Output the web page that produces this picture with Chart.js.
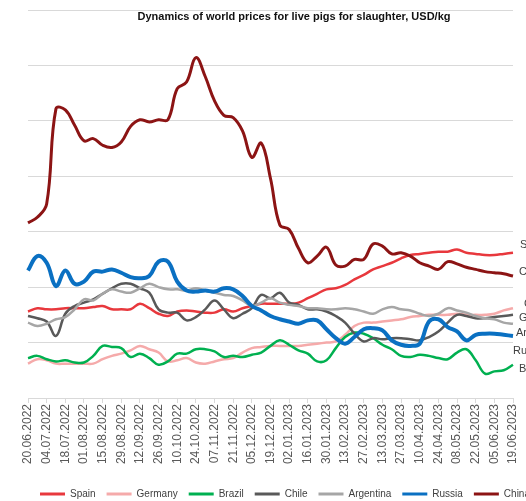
<!DOCTYPE html>
<html>
<head>
<meta charset="utf-8">
<script src="https://cdn.jsdelivr.net/npm/chart.js@4"></script>
<style>
html, body { margin: 0; padding: 0; background: #fff; overflow: hidden; }
#wrap { width: 570px; height: 501px; }
</style>
</head>
<body>
<div id="wrap"><canvas id="pigChart"></canvas></div>
<script>
// weekly dates, every second one shown on the axis
const weeks = [
    "20.06.2022", "27.06.2022", "04.07.2022", "11.07.2022", "18.07.2022", "25.07.2022",
    "01.08.2022", "08.08.2022", "15.08.2022", "22.08.2022", "29.08.2022",
    "05.09.2022", "12.09.2022", "19.09.2022", "26.09.2022",
    "03.10.2022", "10.10.2022", "17.10.2022", "24.10.2022", "31.10.2022",
    "07.11.2022", "14.11.2022", "21.11.2022", "28.11.2022",
    "05.12.2022", "12.12.2022", "19.12.2022", "26.12.2022",
    "02.01.2023", "09.01.2023", "16.01.2023", "23.01.2023", "30.01.2023",
    "06.02.2023", "13.02.2023", "20.02.2023", "27.02.2023",
    "06.03.2023", "13.03.2023", "20.03.2023", "27.03.2023",
    "03.04.2023", "10.04.2023", "17.04.2023", "24.04.2023",
    "01.05.2023", "08.05.2023", "15.05.2023", "22.05.2023", "29.05.2023",
    "05.06.2023", "12.06.2023", "19.06.2023"
];

const countries = ["Spain", "Germany", "Brazil", "Chile", "Argentina", "Russia", "China"];

const spain = [1.78,1.81,1.80,1.80,1.81,1.81,1.81,1.82,1.83,1.80, 1.80,1.80,1.85,1.81,1.76,1.74,1.78,1.79,1.78,1.77,
    1.77,1.80,1.78,1.81,1.83,1.85,1.85,1.85,1.85,1.86, 1.90,1.94,1.98,1.99,2.02,2.07,2.11,2.16,2.19,2.22,
    2.26,2.29,2.30,2.31,2.32,2.32,2.34,2.31,2.30,2.29, 2.29,2.30,2.31];
const germany = [1.31,1.35,1.34,1.31,1.31,1.31,1.31,1.31,1.35,1.38, 1.40,1.43,1.47,1.44,1.41,1.33,1.34,1.36,1.32,1.31,
    1.33,1.35,1.36,1.41,1.45,1.46,1.47,1.47,1.47,1.47, 1.48,1.49,1.50,1.51,1.57,1.65,1.68,1.68,1.69,1.70,
    1.71,1.73,1.74,1.75,1.75,1.75,1.76,1.75,1.75,1.75, 1.76,1.79,1.81];
const brazil = [1.36,1.38,1.35,1.33,1.34,1.32,1.32,1.38,1.47,1.46, 1.45,1.37,1.40,1.36,1.30,1.33,1.40,1.40,1.44,1.44,
    1.42,1.37,1.38,1.37,1.39,1.41,1.47,1.52,1.48,1.43, 1.40,1.33,1.34,1.45,1.55,1.59,1.58,1.54,1.48,1.44,
    1.38,1.37,1.39,1.38,1.36,1.35,1.41,1.44,1.34,1.22, 1.24,1.25,1.30];
const chile = [1.74,1.72,1.69,1.56,1.76,1.83,1.86,1.89,1.94,1.99, 2.03,2.03,1.99,1.95,1.80,1.77,1.77,1.70,1.73,1.80,
    1.88,1.80,1.72,1.76,1.81,1.93,1.90,1.95,1.86,1.84, 1.80,1.80,1.78,1.74,1.68,1.58,1.51,1.54,1.53,1.54,
    1.54,1.53,1.52,1.55,1.60,1.68,1.75,1.74,1.72,1.72, 1.73,1.74,1.75];
const argentina = [1.68,1.65,1.67,1.71,1.73,1.80,1.89,1.88,1.94,1.98, 1.96,1.95,1.99,2.03,2.00,1.98,1.98,1.97,1.99,1.97,
    1.95,1.93,1.92,1.88,1.83,1.86,1.90,1.86,1.84,1.83, 1.81,1.81,1.80,1.80,1.81,1.80,1.78,1.76,1.80,1.82,
    1.80,1.79,1.76,1.74,1.76,1.81,1.79,1.77,1.74,1.72, 1.71,1.68,1.67];
const russia = [2.15,2.28,2.22,2.01,2.15,2.03,2.05,2.14,2.14,2.16, 2.13,2.09,2.08,2.10,2.23,2.23,2.05,1.97,1.96,1.97,
    1.96,1.99,1.98,1.92,1.83,1.79,1.74,1.71,1.69,1.67, 1.70,1.70,1.62,1.54,1.49,1.55,1.62,1.63,1.61,1.52,
    1.48,1.47,1.49,1.69,1.71,1.64,1.60,1.52,1.57,1.58, 1.58,1.57,1.56];
const china = [2.58,2.63,2.75,3.61,3.60,3.46,3.32,3.34,3.28,3.26, 3.31,3.45,3.51,3.49,3.51,3.51,3.79,3.85,4.07,3.90,
    3.68,3.55,3.53,3.41,3.17,3.30,2.98,2.56,2.52,2.35, 2.22,2.28,2.36,2.20,2.19,2.25,2.25,2.39,2.37,2.30,
    2.31,2.28,2.22,2.19,2.16,2.23,2.21,2.18,2.16,2.14, 2.13,2.12,2.10];

const seriesData = [spain, germany, brazil, chile, argentina, russia, china];

// looks
const colors = ["#e8383d", "#f5aaaa", "#00b050", "#595959", "#a6a6a6", "#0a70c2", "#8c1414"];
const widths = [2.5, 2.5, 2.5, 2.5, 2.5, 4, 3];
// end label offsets (dx, dy) from the last point
const labelOffsets = [[7, -8], [6, 10], [6, 4], [11, -11], [3, 9], [0, 15], [6, -4]];

const FONT = '"Liberation Sans", Arial, sans-serif';

const titlePlugin = {
    id: "overlayTitle",
    afterDraw(chart) {
        const ctx = chart.ctx;
        ctx.save();
        ctx.font = "bold 11px " + FONT;
        ctx.fillStyle = "#111111";
        ctx.textAlign = "center";
        ctx.textBaseline = "middle";
        ctx.fillText("Dynamics of world prices for live pigs for slaughter, USD/kg", chart.width / 2 + 9, 17);
        ctx.restore();
    }
};

const endLabels = {
    id: "endLabels",
    afterDatasetsDraw(chart) {
        const ctx = chart.ctx;
        ctx.save();
        ctx.font = "11px " + FONT;
        ctx.fillStyle = "#404040";
        ctx.textAlign = "left";
        ctx.textBaseline = "middle";
        chart.data.datasets.forEach((ds, i) => {
            const pts = chart.getDatasetMeta(i).data;
            const p = pts[pts.length - 1];
            ctx.fillText(ds.label, p.x + labelOffsets[i][0], p.y + labelOffsets[i][1]);
        });
        ctx.restore();
    }
};

new Chart(document.getElementById("pigChart"), {

    type: "line",

    data: {
        labels: weeks,
        datasets: countries.map((name, i) => ({
            label: name,
            data: seriesData[i],
            borderColor: colors[i],
            backgroundColor: colors[i],
            borderWidth: widths[i],
            pointRadius: 0,
            tension: 0.4,
            fill: false,
            order: countries.length - i
        }))
    },

    options: {
        responsive: true,
        maintainAspectRatio: false,
        animation: false,
        layout: {
            padding: { top: 10, bottom: -8, left: 0, right: 0 }
        },
        scales: {
            x: {
                offset: false,
                grid: { drawOnChartArea: false, drawTicks: true, tickLength: 5, color: "#d9d9d9" },
                border: { color: "#d9d9d9" },
                ticks: {
                    autoSkip: false,
                    maxRotation: 90,
                    minRotation: 90,
                    padding: 1,
                    color: "#595959",
                    font: { family: FONT, size: 12 },
                    callback: (v, i) => (i % 2 === 0 ? weeks[i] : null)
                },
                afterFit(scale) { scale.height = 80; }
            },
            y: {
                min: 1.0,
                max: 4.5,
                ticks: { display: false, stepSize: 0.5 },
                grid: { color: "#d9d9d9", drawTicks: false },
                border: { display: false },
                afterFit(scale) { scale.width = 28; }
            },
            yRight: {
                position: "right",
                display: true,
                ticks: { display: false },
                grid: { drawOnChartArea: false, drawTicks: false },
                border: { display: false },
                afterFit(scale) { scale.width = 57; }
            }
        },
        plugins: {
            legend: {
                position: "bottom",
                labels: {
                    boxWidth: 25,
                    boxHeight: 3,
                    padding: 11,
                    color: "#404040",
                    font: { family: FONT, size: 10 },
                    sort: (a, b) => a.datasetIndex - b.datasetIndex,
                    generateLabels(chart) {
                        const items = Chart.defaults.plugins.legend.labels.generateLabels(chart);
                        items.forEach(it => { it.lineWidth = 0; it.fillStyle = it.strokeStyle; });
                        return items;
                    }
                }
            },
            title: { display: false },
            tooltip: { enabled: false }
        }
    },

    plugins: [titlePlugin, endLabels]
});
</script>
</body>
</html>
